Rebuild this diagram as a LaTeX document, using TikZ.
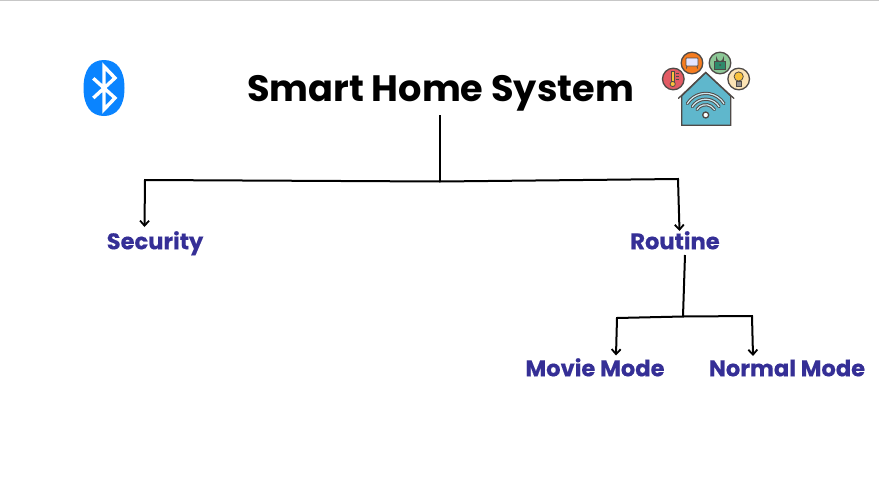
\documentclass[tikz,border=0pt]{standalone}
\usepackage{fontspec}
\setmainfont{Poppins}
\newfontfamily\itemfont{Poppins}[BoldFeatures={FakeBold=0.35}]
\usetikzlibrary{arrows.meta}
\definecolor{labelblue}{HTML}{352F96}
\definecolor{btblue}{HTML}{0A84FF}
\definecolor{icondark}{HTML}{4F4A47}
\definecolor{housefill}{HTML}{5FB7CC}
\definecolor{thermofill}{HTML}{E25B64}
\definecolor{tvfill}{HTML}{F57C20}
\definecolor{lockfill}{HTML}{8CC796}
\definecolor{lockbody}{HTML}{2F8A6B}
\definecolor{bulbfill}{HTML}{FBE3B5}
\definecolor{amberfill}{HTML}{F9C23C}
\tikzset{
  titletext/.style={font=\bfseries\fontsize{36.7}{42}\selectfont,text=black,inner sep=0pt,anchor=base},
  itemtext/.style={font=\itemfont\bfseries\fontsize{22.6}{27}\selectfont,text=labelblue,inner sep=0pt,anchor=base},
  link/.style={draw=black,line width=2pt,line join=miter},
  linkarrow/.style={link,-{Straight Barb[length=5pt,width=9pt,line width=1.8pt]}},
  iconline/.style={draw=icondark,line width=1.3pt},
  iconfine/.style={draw=icondark,line width=.8pt}
}
\begin{document}
\begin{tikzpicture}[x=1pt,y=-1pt]
\useasboundingbox (0,0) rectangle (879,496);
\fill[white] (0,0) rectangle (879,496);
\fill[black!22] (0,0) rectangle (879,1.2);

\node[titletext] (title) at (440.5,101) {Smart Home System};
\node[itemtext] (security) at (155,249.3) {Security};
\node[itemtext] (routine) at (675,249.3) {Routine};
\node[itemtext] (movie) at (595,376.3) {Movie Mode};
\node[itemtext] (normal) at (787,376.3) {Normal Mode};

\coordinate (titleout) at (440,115);
\coordinate (hub) at (440,181.5);
\coordinate (leftcorner) at (145,180);
\coordinate (securityin) at (144.5,227);
\coordinate (rightcorner) at (678,179);
\coordinate (routinein) at (679.5,231);
\coordinate (routineout) at (685,255);
\coordinate (subhub) at (683,316.5);
\coordinate (moviecorner) at (617,318);
\coordinate (moviein) at (616,355.5);
\coordinate (normalcorner) at (752,316);
\coordinate (normalin) at (753,356);

\draw[link] (titleout) -- (hub);
\draw[linkarrow] (hub) -- (leftcorner) -- (securityin);
\draw[linkarrow] (hub) -- (rightcorner) -- (routinein);
\draw[link] (routineout) -- (subhub);
\draw[linkarrow] (subhub) -- (moviecorner) -- (moviein);
\draw[linkarrow] (subhub) -- (normalcorner) -- (normalin);

% Bluetooth badge
\fill[btblue] (104,60) .. controls (117,60) and (124.5,70) .. (124.5,88)
  .. controls (124.5,106) and (117,116) .. (104,116)
  .. controls (91,116) and (83.5,106) .. (83.5,88)
  .. controls (83.5,70) and (91,60) .. (104,60) -- cycle;
\draw[white,line width=3.4pt,line join=miter]
  (93.3,78.3) -- (115,98) -- (104,109.5) -- (104,66.5) -- (115,78) -- (93.3,98);

% Smart home icon
\draw[iconline,fill=housefill] (681.7,125.3) -- (681.7,96) -- (705.7,72.5) -- (730.7,96) -- (730.7,125.3) -- cycle;
\draw[iconline,line cap=round] (678.5,98.3) -- (705.7,72.5) -- (733.8,98.3);
\foreach \r in {10.3,15.8,21.6}{
  \draw[icondark,line width=3.2pt,line cap=round] (705.7,115) ++(212:\r) arc[start angle=212,end angle=328,radius=\r];
}
\foreach \r in {10.3,15.8,21.6}{
  \draw[white!70!housefill,line width=1.2pt,line cap=round] (705.7,115) ++(212:\r) arc[start angle=212,end angle=328,radius=\r];
}
\draw[iconline,fill=white] (705.7,115) circle[radius=3];

\draw[iconline,fill=thermofill] (673.3,79) circle[radius=10.8];
\draw[iconfine,fill=amberfill] (671,71) rectangle (674.5,82);
\draw[iconfine,fill=amberfill] (672.7,84) circle[radius=2.6];
\foreach \yy in {73,76,79}{\draw[iconfine] (676,\yy) -- (679,\yy);}

\draw[iconline,fill=tvfill] (692,63) circle[radius=10.8];
\draw[iconfine,fill=blue!10!white,rounded corners=.6pt] (686,58) rectangle (698,66);
\draw[iconfine] (687,66) -- (686.5,68.5) (697,66) -- (697.5,68.5);

\draw[iconline,fill=lockfill] (720,63) circle[radius=10.8];
\draw[iconfine] (716.5,61) -- (716.5,58) arc[start angle=180,end angle=0,radius=3.5] -- (723.5,61);
\draw[iconfine,fill=lockbody] (714.5,61) rectangle (725.5,69);
\fill[icondark] (720,65) circle[radius=1];

\draw[iconline,fill=bulbfill] (738.7,79) circle[radius=10.8];
\draw[iconfine,fill=amberfill] (738.7,76.5) circle[radius=4.6];
\draw[iconfine,fill=icondark!60!white] (736,81) rectangle (741.4,86);
\end{tikzpicture}
\end{document}
